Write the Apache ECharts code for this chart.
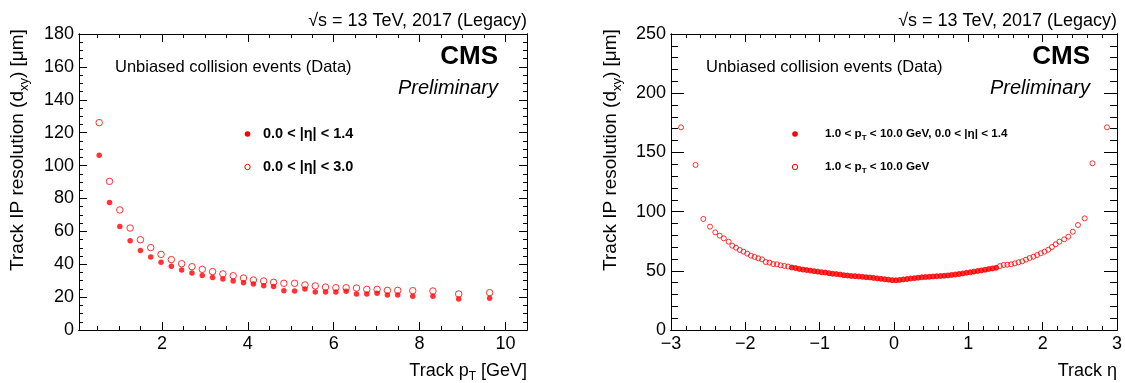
<!DOCTYPE html>
<html><head><meta charset="utf-8">
<script src="https://cdn.jsdelivr.net/npm/echarts@6/dist/echarts.min.js"></script>
<style>html,body{margin:0;padding:0;background:#fff}#c{width:1125px;height:383px}</style>
</head><body><div id="c"></div><script>
// ---------- Left panel: resolution vs track pT ----------
const ptBins = [0.54, 0.78, 1.02, 1.26, 1.50, 1.74, 1.98, 2.22, 2.46, 2.70, 2.94, 3.18, 3.42, 3.66, 3.90, 4.13, 4.37, 4.60, 4.84, 5.09, 5.33, 5.57, 5.81, 6.05, 6.29, 6.53, 6.77, 7.01, 7.25, 7.49, 7.84, 8.31, 8.91, 9.63];
const resPtBarrel = [106.2, 77.6, 63.0, 54.3, 48.4, 44.4, 41.2, 38.7, 36.5, 34.7, 33.2, 32.0, 31.0, 29.8, 28.8, 28.0, 26.9, 26.5, 23.9, 23.7, 24.9, 23.1, 23.1, 23.1, 23.5, 21.9, 21.9, 22.3, 21.3, 21.3, 20.5, 20.5, 18.9, 19.3];
const resPtAll = [126.1, 90.4, 73.0, 62.0, 54.9, 50.1, 46.0, 42.8, 40.3, 38.5, 36.9, 35.5, 34.1, 33.0, 31.6, 30.4, 29.8, 29.0, 28.4, 28.4, 27.4, 26.8, 26.1, 25.7, 25.7, 25.5, 24.7, 24.7, 24.1, 24.1, 23.9, 23.7, 21.9, 22.7];
const ptTickLabels = [2, 4, 6, 8, 10];
const resPtTickLabels = [0, 20, 40, 60, 80, 100, 120, 140, 160, 180];

// ---------- Right panel: resolution vs track eta ----------
const etaOuterNeg = [-2.865, -2.67, -2.565, -2.475, -2.405, -2.345, -2.29, -2.225, -2.175, -2.125, -2.075, -2.025, -1.975, -1.925, -1.875, -1.825, -1.775, -1.725, -1.675, -1.625, -1.575, -1.525, -1.475, -1.425];
const resOuterNeg = [171.2, 139.4, 93.8, 87.3, 82.5, 79.7, 77.4, 74.6, 71.2, 69.5, 67.6, 66.2, 64.5, 62.8, 61.7, 60.5, 59.7, 57.4, 56.9, 55.7, 55.5, 54.6, 54.1, 53.6];
const etaCentral = [-1.375, -1.325, -1.275, -1.225, -1.175, -1.125, -1.075, -1.025, -0.975, -0.925, -0.875, -0.825, -0.775, -0.725, -0.675, -0.625, -0.575, -0.525, -0.475, -0.425, -0.375, -0.325, -0.275, -0.225, -0.175, -0.125, -0.075, -0.025, 0.025, 0.075, 0.125, 0.175, 0.225, 0.275, 0.325, 0.375, 0.425, 0.475, 0.525, 0.575, 0.625, 0.675, 0.725, 0.775, 0.825, 0.875, 0.925, 0.975, 1.025, 1.075, 1.125, 1.175, 1.225, 1.275, 1.325, 1.375];
const resCentral = [52.8, 52.3, 51.6, 51.0, 50.6, 50.2, 49.7, 49.3, 48.8, 48.5, 48.0, 47.5, 47.2, 46.8, 46.3, 46.0, 45.6, 45.5, 45.2, 44.9, 44.6, 44.4, 44.0, 43.6, 43.2, 42.8, 42.5, 42.1, 42.0, 42.3, 42.7, 43.1, 43.5, 43.8, 44.2, 44.5, 44.7, 44.9, 45.2, 45.4, 45.6, 45.8, 46.1, 46.5, 46.9, 47.3, 47.8, 48.3, 48.7, 49.3, 49.8, 50.3, 50.9, 51.5, 52.0, 52.6];
const etaOuterPos = [1.425, 1.475, 1.525, 1.575, 1.625, 1.675, 1.725, 1.775, 1.825, 1.875, 1.925, 1.975, 2.025, 2.075, 2.125, 2.175, 2.225, 2.29, 2.345, 2.405, 2.475, 2.565, 2.67, 2.865];
const resOuterPos = [54.0, 54.9, 55.2, 55.5, 56.3, 57.2, 58.0, 59.4, 60.8, 61.9, 63.3, 64.8, 66.2, 67.8, 70.1, 72.4, 74.6, 76.6, 78.8, 83.0, 88.7, 94.3, 140.8, 171.2];
const etaTickLabels = [-3, -2, -1, 0, 1, 2, 3];
const resEtaTickLabels = [0, 50, 100, 150, 200, 250];

// ---------- helpers ----------
const FONT = "'Liberation Sans', Arial, Helvetica, sans-serif";
const RED = '#ff0000';
function steps(a, b, s, skip) {
  const out = [];
  for (let v = a; v <= b + 1e-9; v += s) {
    const r = Math.round(v * 1000) / 1000;
    if (!skip.some(k => Math.abs(k - r) < 1e-6)) out.push(r);
  }
  return out;
}
function mkAxis(gi, pos, min, max, vals, len, labels, fmt) {
  return {
    type: 'value', gridIndex: gi, position: pos, min: min, max: max,
    axisLine: { show: true, onZero: false, lineStyle: { color: '#000', width: 1 } },
    axisTick: { show: true, inside: true, length: len, customValues: vals, lineStyle: { color: '#000', width: 1 } },
    axisLabel: labels ? {
      show: true, customValues: labels, color: '#000', fontFamily: FONT, fontSize: 18,
      margin: 5, formatter: fmt || (v => String(v))
    } : { show: false },
    splitLine: { show: false }
  };
}
const minus = v => (v < 0 ? '\u2212' + Math.abs(v) : String(v));

const ptMinor = steps(0.5, 10.0, 0.5, ptTickLabels);
const resPtMinor = steps(5, 175, 5, resPtTickLabels);
const etaMinor = steps(-2.8, 2.8, 0.2, etaTickLabels);
const resEtaMinor = steps(10, 240, 10, resEtaTickLabels);

const xAxes = [
  mkAxis(0, 'bottom', 0.07, 10.5, ptTickLabels, 8, ptTickLabels, null),
  mkAxis(0, 'bottom', 0.07, 10.5, ptMinor, 4, null),
  mkAxis(0, 'top', 0.07, 10.5, ptTickLabels, 8, null),
  mkAxis(0, 'top', 0.07, 10.5, ptMinor, 4, null),
  mkAxis(1, 'bottom', -3, 3, etaTickLabels, 8, etaTickLabels, minus),
  mkAxis(1, 'bottom', -3, 3, etaMinor, 4, null),
  mkAxis(1, 'top', -3, 3, etaTickLabels, 8, null),
  mkAxis(1, 'top', -3, 3, etaMinor, 4, null)
];
const yAxes = [
  mkAxis(0, 'left', 0, 180, resPtTickLabels, 8, resPtTickLabels, null),
  mkAxis(0, 'left', 0, 180, resPtMinor, 4, null),
  mkAxis(0, 'right', 0, 180, resPtTickLabels, 8, null),
  mkAxis(0, 'right', 0, 180, resPtMinor, 4, null),
  mkAxis(1, 'left', 0, 250, resEtaTickLabels, 13, resEtaTickLabels, null),
  mkAxis(1, 'left', 0, 250, resEtaMinor, 7, null),
  mkAxis(1, 'right', 0, 250, resEtaTickLabels, 13, null),
  mkAxis(1, 'right', 0, 250, resEtaMinor, 7, null)
];

const openStyle = { color: 'rgba(255,255,255,0)', borderColor: RED, borderWidth: 1 };
const etaAll = etaOuterNeg.concat(etaCentral, etaOuterPos);
const resEtaAll = resOuterNeg.concat(resCentral, resOuterPos);

const series = [
  { type: 'scatter', xAxisIndex: 0, yAxisIndex: 0, symbol: 'circle', symbolSize: 5.5,
    itemStyle: { color: RED }, data: ptBins.map((x, i) => [x, resPtBarrel[i]]), silent: true },
  { type: 'scatter', xAxisIndex: 0, yAxisIndex: 0, symbol: 'circle', symbolSize: 6.5,
    itemStyle: openStyle, data: ptBins.map((x, i) => [x, resPtAll[i]]), silent: true },
  { type: 'scatter', xAxisIndex: 4, yAxisIndex: 4, symbol: 'circle', symbolSize: 5,
    itemStyle: openStyle, data: etaAll.map((x, i) => [x, resEtaAll[i]]), silent: true },
  { type: 'scatter', xAxisIndex: 4, yAxisIndex: 4, symbol: 'circle', symbolSize: 5,
    itemStyle: { color: RED }, data: etaCentral.map((x, i) => [x, resCentral[i]]), silent: true }
];

function txt(x, y, text, font, align) {
  return { type: 'text', x: x, y: y, silent: true,
    style: { text: text, font: font, fill: '#000', textAlign: align || 'left', textVerticalAlign: 'middle' } };
}
const subRich = (size) => ({ sub: { fontSize: size, fontFamily: FONT, padding: [Math.round(size * 0.9), 0, 0, 0] } });

function panelTexts(frameRight, cmsRight, unbX, yTitleX, xTitle, legX, legTextX, legItems, legFont, legSub) {
  const g = [];
  g.push(txt(frameRight, 21, '\u221As = 13 TeV, 2017 (Legacy)', '18px ' + FONT, 'right'));
  g.push(txt(cmsRight, 57, 'CMS', 'bold 26px ' + FONT, 'right'));
  g.push(txt(cmsRight, 88, 'Preliminary', 'italic 20px ' + FONT, 'right'));
  g.push(txt(unbX, 67, 'Unbiased collision events (Data)', '16.5px ' + FONT, 'left'));
  g.push({ type: 'text', x: yTitleX, y: 150, rotation: Math.PI / 2, silent: true,
    style: { text: 'Track IP resolution (d{sub|xy}) [\u03BCm]', font: '19px ' + FONT, fill: '#000',
      textAlign: 'center', textVerticalAlign: 'middle', rich: subRich(13) } });
  g.push({ type: 'text', x: frameRight, y: 371, silent: true,
    style: { text: xTitle, font: '18px ' + FONT, fill: '#000', textAlign: 'right', textVerticalAlign: 'middle', rich: subRich(12) } });
  // legend
  g.push({ type: 'circle', silent: true, shape: { cx: legX, cy: 134, r: 2.8 }, style: { fill: RED } });
  g.push({ type: 'circle', silent: true, shape: { cx: legX, cy: 167, r: 2.7 }, style: { fill: 'none', stroke: RED, lineWidth: 1 } });
  g.push({ type: 'text', x: legTextX, y: 134, silent: true,
    style: { text: legItems[0], font: legFont, fill: '#000', textAlign: 'left', textVerticalAlign: 'middle', rich: legSub } });
  g.push({ type: 'text', x: legTextX, y: 167, silent: true,
    style: { text: legItems[1], font: legFont, fill: '#000', textAlign: 'left', textVerticalAlign: 'middle', rich: legSub } });
  return g;
}
const graphics = [].concat(
  panelTexts(527, 498, 115, 18, 'Track p{sub|T} [GeV]', 247.5, 263,
    ['0.0 < |\u03B7| < 1.4', '0.0 < |\u03B7| < 3.0'], 'bold 14.5px ' + FONT, null),
  panelTexts(1117, 1090, 706, 611, 'Track \u03B7', 795, 825,
    ['1.0 < p{sub|T} < 10.0 GeV, 0.0 < |\u03B7| < 1.4', '1.0 < p{sub|T} < 10.0 GeV'], 'bold 11.7px ' + FONT,
    { sub: { fontSize: 8, fontWeight: 'bold', fontFamily: FONT, padding: [8, 0, 0, 0] } })
);

const chart = echarts.init(document.getElementById('c'), null, { renderer: 'canvas' });
chart.setOption({
  animation: false,
  backgroundColor: '#fff',
  grid: [
    { left: 79, right: 598, top: 34, bottom: 53 },
    { left: 671, right: 8, top: 34, bottom: 53 }
  ],
  xAxis: xAxes,
  yAxis: yAxes,
  series: series,
  graphic: graphics
});
</script></body></html>
